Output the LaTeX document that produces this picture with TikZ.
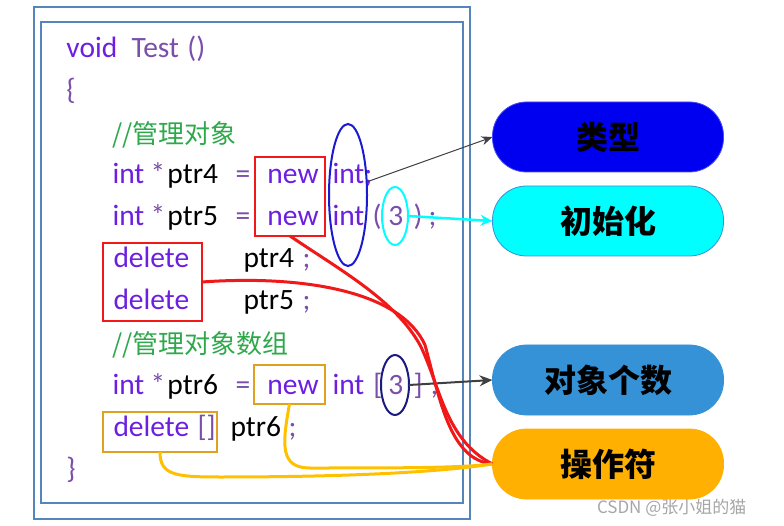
\documentclass[tikz,border=0pt]{standalone}
\usepackage{fontspec}
\setmainfont{Carlito}
\newfontfamily\cjk{Noto Sans CJK SC}
\usepackage{tikz}
\usetikzlibrary{arrows.meta,shapes.geometric}
\definecolor{kwviolet}{HTML}{6C1FE0}
\definecolor{pupurple}{HTML}{7A4EAA}
\definecolor{cmtgreen}{HTML}{2DA84A}
\definecolor{frameblue}{HTML}{5585BA}
\definecolor{boxred}{HTML}{F01818}
\definecolor{boxorange}{HTML}{E0A020}
\definecolor{curveorange}{HTML}{FFC000}
\definecolor{ringblue}{HTML}{1A1AD0}
\definecolor{ringnavy}{HTML}{1A1A80}
\definecolor{typeblue}{HTML}{0000F0}
\definecolor{initcyan}{HTML}{00FFFF}
\definecolor{countblue}{HTML}{3592D6}
\definecolor{opyellow}{HTML}{FFB000}
\definecolor{arrowgray}{HTML}{404040}
\newcommand{\tk}[2]{\makebox[0pt][l]{\hspace*{#1pt}#2}}
\newcommand{\kw}[1]{\textcolor{kwviolet}{#1}}
\newcommand{\pu}[1]{\textcolor{pupurple}{#1}}

\begin{document}
\begin{tikzpicture}[x=1pt, y=-1pt,
  every node/.style={inner sep=0pt, outer sep=0pt},
  codeline/.style={anchor=base west, font=\fontsize{29.5}{34}\selectfont},
  cmtline/.style={anchor=base west, text=cmtgreen, font=\cjk\fontsize{26}{30}\selectfont},
  redbox/.style={rectangle, draw=boxred, line width=2pt},
  orbox/.style={rectangle, draw=boxorange, line width=2pt},
  ring/.style={ellipse, line width=2pt},
  pill/.style={rectangle, rounded corners=34pt, minimum width=231pt,
               minimum height=70pt, line width=0.8pt,
               font=\cjk\bfseries\fontsize{32}{36}\selectfont},
  ar/.style={-{Stealth[length=11pt, width=9pt]}, draw=arrowgray},
  redlink/.style={draw=boxred, line width=3pt},
  orlink/.style={draw=curveorange, line width=3pt}
]
\useasboundingbox (0,0) rectangle (784,526);

% frames
\draw[frameblue, line width=2.5pt] (34,7) rectangle (470,519);
\draw[frameblue, line width=2.5pt] (41,22) rectangle (463,503);

% code lines
\node[codeline] (head) at (0,58) {\tk{66}{\kw{void}}\tk{131}{\pu{Test}}\tk{187}{\pu{()}}};
\node[codeline] (open) at (0,100) {\tk{66}{\pu{\{}}};
\node[cmtline] (cmtone) at (112,144) {//管理对象};
\node[codeline] (pfour) at (0,184) {\tk{112}{\kw{int}}\tk{150}{\pu{*}}\tk{167}{ptr4}%
  \tk{235}{\pu{=}}\tk{267}{\kw{new}}\tk{332}{\kw{int;}}};
\node[codeline] (pfive) at (0,226) {\tk{112}{\kw{int}}\tk{150}{\pu{*}}\tk{167}{ptr5}%
  \tk{235}{\pu{=}}\tk{267}{\kw{new}}\tk{332}{\kw{int}}\tk{372}{\pu{(}}\tk{388}{\pu{3}}%
  \tk{413}{\pu{)}}\tk{428}{\pu{;}}};
\node[codeline] (dfour) at (0,268) {\tk{113}{\kw{delete}}\tk{243}{ptr4}\tk{302}{\pu{;}}};
\node[codeline] (dfive) at (0,310) {\tk{113}{\kw{delete}}\tk{243}{ptr5}\tk{302}{\pu{;}}};
\node[cmtline] (cmttwo) at (112,354) {//管理对象数组};
\node[codeline] (psix) at (0,394) {\tk{112}{\kw{int}}\tk{150}{\pu{*}}\tk{167}{ptr6}%
  \tk{235}{\pu{=}}\tk{267}{\kw{new}}\tk{332}{\kw{int}}\tk{373}{\pu{[}}\tk{388}{\pu{3}}%
  \tk{413}{\pu{]}}\tk{430}{\pu{;}}};
\node[codeline] (dsix) at (0,436) {\tk{113}{\kw{delete}}\tk{197}{\pu{[]}}\tk{230}{ptr6}\tk{288}{\pu{;}}};
\node[codeline] (close) at (0,478) {\tk{66}{\pu{\}}}};

% marks on the code
\node[redbox, minimum width=70pt, minimum height=79pt] (newfive) at (290,196.5) {};
\node[redbox, minimum width=99pt, minimum height=78pt] (delfive) at (152.5,282) {};
\node[orbox, minimum width=71pt, minimum height=39pt] (newsix) at (289.5,384.5) {};
\node[orbox, minimum width=114pt, minimum height=40pt] (delsix) at (160,432) {};
\node[ring, draw=ringblue, minimum width=38pt, minimum height=142pt] (typering) at (348,195) {};
\node[ring, draw=initcyan, minimum width=26pt, minimum height=58pt] (initring) at (395,216) {};
\node[ring, draw=ringnavy, minimum width=28pt, minimum height=60pt] (countring) at (395,385) {};

% labels
\node[pill, fill=typeblue, draw=typeblue!70!white] (type) at (608,137) {类型};
\node[pill, fill=initcyan, draw=countblue] (init) at (608,221) {初始化};
\node[pill, fill=countblue, draw=countblue] (count) at (608,380) {对象个数};
\node[pill, fill=opyellow, draw=opyellow] (oper) at (608,464) {操作符};

\node[anchor=west, text=black!35, font=\cjk\fontsize{17}{20}\selectfont] (mark) at (597,508) {CSDN @张小姐的猫};

% connectors
\draw[ar, line width=1pt] (typering.35) -- (type.west);
\draw[ar, draw=initcyan, line width=2.5pt, -{Stealth[length=12pt, width=11pt]}] (initring.east) -- (init.west);
\draw[ar, line width=2pt, -{Stealth[length=13pt, width=11pt]}] (countring.east) -- (count.west);
\draw[redlink] (newfive.south) .. controls (340,270) and (395,300) .. (420,345)
  .. controls (440,385) and (445,440) .. (oper.west);
\draw[redlink] (delfive.east) .. controls (300,275) and (400,290) .. (425,345)
  .. controls (440,400) and (450,460) .. (oper.west);
\draw[orlink] (newsix.south) .. controls (282,445) and (280,468) .. (310,468)
  .. controls (400,468) and (460,468) .. (oper.west);
\draw[orlink] (delsix.south) .. controls (160,475) and (175,477) .. (220,477)
  .. controls (350,477) and (440,472) .. (oper.west);
\end{tikzpicture}
\end{document}
